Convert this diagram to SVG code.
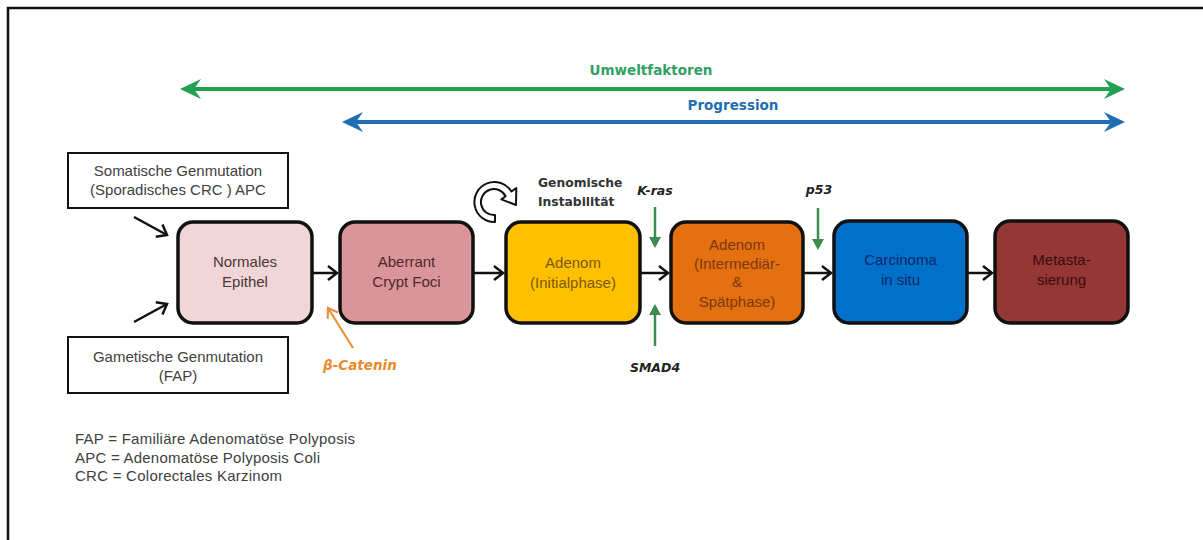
<svg xmlns="http://www.w3.org/2000/svg" width="1203" height="540" viewBox="0 0 1203 540">
<style>
.lbl{font-family:"Liberation Sans",Arial,sans-serif;font-size:15px;text-anchor:middle}
.box{fill:#fff;stroke:#111;stroke-width:2}
.node{stroke:#111;stroke-width:3.5}
.flow{stroke:#111;stroke-width:2.5;fill:none}
.gene{font-family:"DejaVu Sans",sans-serif;font-weight:bold;font-style:italic;font-size:12.5px;fill:#222;text-anchor:middle}
.head{font-family:"DejaVu Sans",sans-serif;font-weight:bold;font-size:13.5px;text-anchor:middle}
.leg{font-family:"Liberation Sans",Arial,sans-serif;font-size:15px;fill:#404040}
</style>
<defs>
<marker id="chev" markerUnits="userSpaceOnUse" markerWidth="20" markerHeight="20" refX="0" refY="0" orient="auto" overflow="visible">
<path d="M-9,-7 L0,0 L-9,7" fill="none" stroke="#111" stroke-width="2.5" stroke-linejoin="miter"/>
</marker>
<marker id="chevO" markerUnits="userSpaceOnUse" markerWidth="20" markerHeight="20" refX="0" refY="0" orient="auto" overflow="visible">
<path d="M-9,-6 L0,0 L-9,6" fill="none" stroke="#E8913A" stroke-width="2.2"/>
</marker>
<marker id="triG" markerUnits="userSpaceOnUse" markerWidth="20" markerHeight="20" refX="0" refY="0" orient="auto" overflow="visible">
<path d="M-2,-6 L9,0 L-2,6 Z" fill="#3C8C50"/>
</marker>
<marker id="stG" markerUnits="userSpaceOnUse" markerWidth="30" markerHeight="30" refX="0" refY="0" orient="auto-start-reverse" overflow="visible">
<path d="M14,0 L-7,-10 L0,0 L-7,10 Z" fill="#22A052"/>
</marker>
<marker id="stB" markerUnits="userSpaceOnUse" markerWidth="30" markerHeight="30" refX="0" refY="0" orient="auto-start-reverse" overflow="visible">
<path d="M14,0 L-7,-10 L0,0 L-7,10 Z" fill="#1F6EB2"/>
</marker>
</defs>
<rect x="0" y="0" width="1203" height="540" fill="#fff"/>
<rect id="frame" x="8" y="8" width="1210" height="560" fill="none" stroke="#111" stroke-width="2.5"/>

<g id="connectors">
<line x1="194" y1="89" x2="1111" y2="89" stroke="#22A052" stroke-width="4" marker-start="url(#stG)" marker-end="url(#stG)"/>
<line x1="356" y1="122" x2="1111" y2="122" stroke="#1F6EB2" stroke-width="4" marker-start="url(#stB)" marker-end="url(#stB)"/>
<line class="flow" x1="313" y1="273" x2="337" y2="273" marker-end="url(#chev)"/>
<line class="flow" x1="474" y1="273" x2="503" y2="273" marker-end="url(#chev)"/>
<line class="flow" x1="641" y1="273" x2="668" y2="273" marker-end="url(#chev)"/>
<line class="flow" x1="804" y1="273" x2="831" y2="273" marker-end="url(#chev)"/>
<line class="flow" x1="968" y1="273" x2="992" y2="273" marker-end="url(#chev)"/>
<line class="flow" x1="134" y1="217" x2="167" y2="235" marker-end="url(#chev)"/>
<line class="flow" x1="134" y1="322" x2="167" y2="304" marker-end="url(#chev)"/>
<line x1="353" y1="348" x2="328" y2="308" stroke="#E8913A" stroke-width="2.2" marker-end="url(#chevO)"/>
<line x1="655" y1="207" x2="655" y2="239" stroke="#3C8C50" stroke-width="2.5" marker-end="url(#triG)"/>
<line x1="655" y1="346" x2="655" y2="313" stroke="#3C8C50" stroke-width="2.5" marker-end="url(#triG)"/>
<line x1="818" y1="208" x2="818" y2="241" stroke="#3C8C50" stroke-width="2.5" marker-end="url(#triG)"/>
</g>

<g id="labels-top">
<text class="head" x="651" y="75" fill="#2FA060">Umweltfaktoren</text>
<text class="head" x="733" y="110" fill="#1F6EB2">Progression</text>
</g>

<g id="somatisch">
<rect class="box" x="68" y="153" width="220" height="55"/>
<text class="lbl" x="178" y="176" fill="#404040">Somatische Genmutation</text>
<text class="lbl" x="178" y="195" fill="#404040">(Sporadisches CRC ) APC</text>
</g>
<g id="gametisch">
<rect class="box" x="68" y="337" width="220" height="56"/>
<text class="lbl" x="178" y="362" fill="#404040">Gametische Genmutation</text>
<text class="lbl" x="178" y="381" fill="#404040">(FAP)</text>
</g>

<g id="normales">
<rect class="node" x="178" y="222" width="134" height="101" rx="15" fill="#F0D6D6"/>
<text class="lbl" x="245" y="267" fill="#4d3838">Normales</text>
<text class="lbl" x="245" y="287" fill="#4d3838">Epithel</text>
</g>
<g id="aberrant">
<rect class="node" x="340" y="222" width="133" height="101" rx="15" fill="#D9959A"/>
<text class="lbl" x="406.5" y="267" fill="#502a2a">Aberrant</text>
<text class="lbl" x="406.5" y="287" fill="#502a2a">Crypt Foci</text>
</g>
<g id="adenom-initial">
<rect class="node" x="506" y="222" width="134" height="101" rx="15" fill="#FFC000"/>
<text class="lbl" x="573" y="268" fill="#7a5a00">Adenom</text>
<text class="lbl" x="573" y="288" fill="#7a5a00">(Initialphase)</text>
</g>
<g id="adenom-spaet">
<rect class="node" x="671" y="222" width="132" height="101" rx="15" fill="#E4700F"/>
<text class="lbl" x="737" y="250" fill="#7a3810">Adenom</text>
<text class="lbl" x="737" y="269" fill="#7a3810">(Intermediär-</text>
<text class="lbl" x="737" y="287" fill="#7a3810">&amp;</text>
<text class="lbl" x="737" y="307" fill="#7a3810">Spätphase)</text>
</g>
<g id="carcinoma">
<rect class="node" x="834" y="221" width="133" height="102" rx="15" fill="#0070C8"/>
<text class="lbl" x="900.5" y="265" fill="#0a2a6a">Carcinoma</text>
<text class="lbl" x="900.5" y="285" fill="#0a2a6a">in situ</text>
</g>
<g id="metastasierung">
<rect class="node" x="995" y="221" width="133" height="102" rx="15" fill="#953735"/>
<text class="lbl" x="1061.5" y="265" fill="#3a0c0c">Metasta-</text>
<text class="lbl" x="1061.5" y="285" fill="#3a0c0c">sierung</text>
</g>

<g id="genomische">
<path d="M495,222 A20,20 0 1 1 511.4,191.5 L516.3,188 L516,205 L501.4,199.4 L505.6,196.3 A13,13 0 1 0 495,215 Z" fill="#fff" stroke="#111" stroke-width="2" stroke-linejoin="round"/>
<text font-family="DejaVu Sans,sans-serif" font-weight="bold" font-size="12.3" fill="#333" x="538" y="187">Genomische</text>
<text font-family="DejaVu Sans,sans-serif" font-weight="bold" font-size="12.3" fill="#333" x="538" y="206">Instabilität</text>
</g>

<g id="gene-labels">
<text class="gene" x="655" y="195">K-ras</text>
<text class="gene" x="655" y="372">SMAD4</text>
<text class="gene" x="819" y="194">p53</text>
<text font-family="DejaVu Sans,sans-serif" font-weight="bold" font-style="italic" font-size="13.5" fill="#E8892B" x="323" y="370">β-Catenin</text>
</g>

<g id="legend" xml:space="preserve">
<text class="leg" x="75" y="444" textLength="280" lengthAdjust="spacing">FAP = Familiäre  Adenomatöse Polyposis</text>
<text class="leg" x="75" y="463" textLength="245" lengthAdjust="spacing">APC = Adenomatöse Polyposis Coli</text>
<text class="leg" x="75" y="481" textLength="207" lengthAdjust="spacing">CRC = Colorectales Karzinom</text>
</g>
</svg>
